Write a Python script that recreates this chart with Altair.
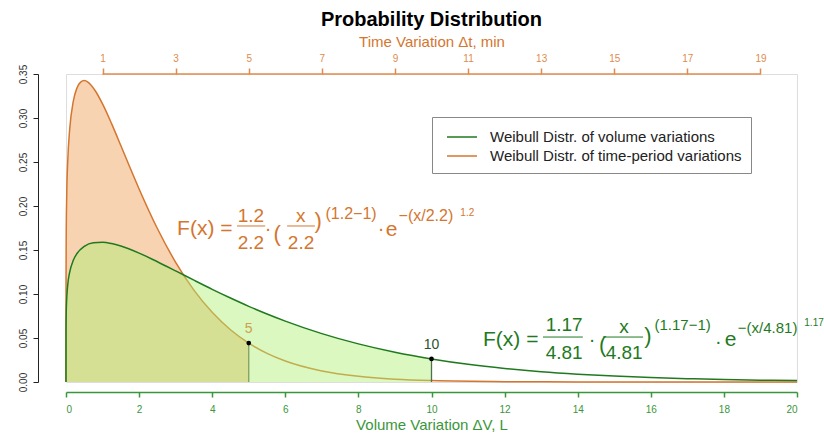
import altair as alt
import pandas as pd

# ---- data ----
x_orange = [0, 0.001, 0.005, 0.02, 0.05, 0.1, 0.2, 0.3, 0.4, 0.5, 0.6, 0.8, 1.0, 1.25, 1.5,
            1.75, 2.0, 2.5, 3.0, 3.5, 4.0, 4.5, 5.0, 5.5, 6, 7, 8, 9, 10, 12, 14, 16, 18, 20]
y_orange = [0, 0.1171, 0.1614, 0.2123, 0.2532, 0.2868, 0.3192, 0.3342, 0.3408, 0.3425,
            0.3408, 0.3310, 0.3160, 0.2933, 0.2687, 0.2437, 0.2194, 0.1744, 0.1360, 0.1044,
            0.0792, 0.0594, 0.0442, 0.0325, 0.0238, 0.0125, 0.0064, 0.0032, 0.0016, 0.0004,
            0.0001, 0.0, 0.0, 0.0]
x_green = [0, 0.001, 0.01, 0.05, 0.1, 0.2, 0.3, 0.5, 0.75, 1.0, 1.25, 1.5, 2.0, 2.5, 3.0,
           3.5, 4.0, 4.5, 5.0, 5.5, 6, 7, 8, 9, 10, 11, 12, 13, 14, 15, 16, 17, 18, 19, 20]
y_green = [0, 0.0576, 0.0851, 0.1114, 0.1246, 0.1383, 0.1460, 0.1542, 0.1583, 0.1588,
           0.1573, 0.1545, 0.1465, 0.1367, 0.1263, 0.1157, 0.1053, 0.0954, 0.0860, 0.0773,
           0.0692, 0.0550, 0.0433, 0.0338, 0.0262, 0.0201, 0.0154, 0.0117, 0.0089, 0.0067,
           0.0050, 0.0038, 0.0028, 0.0021, 0.0016]
series_names = ["Weibull Distr. of volume variations", "Weibull Distr. of time-period variations"]
orange_limit = 5
green_limit = 10
marker_x = [5, 10]
marker_y = [0.0442, 0.0262]
marker_text = ["5", "10"]
bottom_ticks = list(range(0, 21, 2))
top_ticks = list(range(1, 20, 2))
y_ticks = [0, 0.05, 0.10, 0.15, 0.20, 0.25, 0.30, 0.35]

# ---- styling ----
FONT = "Liberation Sans"
ORANGE = "#D4762F"
ORANGE_LIGHT = "#E08B4E"
GREEN = "#1F7A1F"
GREEN_AX = "#3A963A"
PEACH = "#F8D3B1"
LGREEN = "#ADEF73"

df_o = pd.DataFrame({"x": x_orange, "y": y_orange, "s": series_names[1]})
df_g = pd.DataFrame({"x": x_green, "y": y_green, "s": series_names[0]})

xs = alt.Scale(domain=[0, 20], nice=False, zero=False)
ys = alt.Scale(domain=[0, 0.35], nice=False)
cs = alt.Scale(domain=series_names, range=[GREEN, ORANGE])

X_NONE = alt.X("x:Q", scale=xs, axis=None)
Y_NONE = alt.Y("y:Q", scale=ys, axis=None)

area_o = alt.Chart(df_o).transform_filter(alt.datum.x <= orange_limit).mark_area(
    color=PEACH, interpolate="monotone").encode(
    x=alt.X("x:Q", scale=xs, axis=alt.Axis(
        values=bottom_ticks, offset=10, grid=False, domainColor=GREEN_AX, tickColor=GREEN_AX,
        labelColor=GREEN_AX, tickSize=5, labelFontSize=10, labelPadding=7,
        domainWidth=1.5, tickWidth=1.5,
        title="Volume Variation ΔV, L", titleColor=GREEN_AX, titleFontSize=15,
        titleFontWeight="normal", titlePadding=3)),
    y=alt.Y("y:Q", scale=ys, axis=alt.Axis(
        values=y_ticks, format=".2f", offset=28, grid=False, domainColor="#222",
        tickColor="#222", labelColor="#333", tickSize=5, labelFontSize=10, labelAngle=270,
        labelAlign="center", labelBaseline="bottom", labelPadding=5, title=None)),
)

line_o = alt.Chart(df_o).mark_line(strokeWidth=1.5, interpolate="monotone").encode(
    x=X_NONE, y=Y_NONE,
    color=alt.Color("s:N", scale=cs, legend=alt.Legend(
        title=None, orient="none", legendX=366, legendY=43, fillColor="white",
        strokeColor="#888", padding=9, symbolType="M-1.5,0L1.5,0", symbolSize=400,
        symbolStrokeWidth=1.5, symbolOffset=10, labelOffset=17, labelFontSize=15,
        labelFont=FONT, labelColor="#222", rowPadding=0, labelLimit=400)),
)

area_g = alt.Chart(df_g).transform_filter(alt.datum.x <= green_limit).mark_area(
    color=LGREEN, opacity=0.45, interpolate="monotone").encode(x=X_NONE, y=Y_NONE)

line_g = alt.Chart(df_g).mark_line(strokeWidth=1.5, interpolate="monotone").encode(
    x=X_NONE, y=Y_NONE, color=alt.Color("s:N", scale=cs))

df_m = pd.DataFrame({"x": marker_x, "y": marker_y, "t": marker_text,
                     "c": ["#7F9F5F", "#4F6F4F"], "tc": ["#CFA04A", "#2F4F2F"]})
vrules = alt.Chart(df_m).mark_rule(strokeWidth=1.3).encode(
    x=X_NONE, y=alt.Y("y:Q", scale=ys, axis=None), y2=alt.datum(0),
    color=alt.Color("c:N", scale=None))
pts = alt.Chart(df_m).mark_circle(size=22, color="black", opacity=1).encode(x=X_NONE, y=Y_NONE)
mlab = alt.Chart(df_m).mark_text(fontSize=14, font=FONT, dy=-14).encode(
    x=X_NONE, y=Y_NONE, text="t:N", color=alt.Color("tc:N", scale=None))

# top axis (time), axis line spans 1..19
df_top = pd.DataFrame({"x": [top_ticks[0]], "x2": [top_ticks[-1]], "y": [0.35]})
top_axis = alt.Chart(df_top).mark_rule(color=ORANGE_LIGHT, strokeWidth=1.5).encode(
    x=alt.X("x:Q", scale=xs, axis=alt.Axis(
        orient="top", values=top_ticks, domain=False, grid=False, tickColor=ORANGE_LIGHT,
        tickWidth=1.5, tickSize=6, labelColor=ORANGE_LIGHT, labelFontSize=10, labelPadding=5,
        title="Time Variation Δt, min", titleColor=ORANGE, titleFontSize=15,
        titleFontWeight="normal", titlePadding=4)),
    x2="x2:Q", y=Y_NONE)

# equations (annotation positions in data units)
eq_o = pd.DataFrame([
    ("F(x) =", 3.04, 0.174, 21, "left"),
    ("1.2", 5.06, 0.1886, 19, "center"),
    ("2.2", 5.06, 0.158, 19, "center"),
    ("·", 5.53, 0.174, 20, "center"),
    ("(", 5.78, 0.168, 22, "center"),
    ("x", 6.42, 0.1886, 19, "center"),
    ("2.2", 6.43, 0.158, 19, "center"),
    (")", 6.9, 0.183, 22, "center"),
    ("(1.2−1)", 7.1, 0.1905, 16, "left"),
    ("·", 8.62, 0.174, 20, "center"),
    ("e", 8.75, 0.1725, 21, "left"),
    ("−(x/2.2)", 9.1, 0.189, 16, "left"),
    ("1.2", 10.79, 0.1915, 10, "left"),
], columns=["t", "x", "y", "fs", "al"])
eq_g = pd.DataFrame([
    ("F(x) =", 11.41, 0.0477, 21, "left"),
    ("1.17", 13.63, 0.0648, 19, "center"),
    ("4.81", 13.63, 0.033, 19, "center"),
    ("·", 14.39, 0.0477, 20, "center"),
    ("(", 14.68, 0.042, 22, "center"),
    ("x", 15.27, 0.0625, 19, "center"),
    ("4.81", 15.27, 0.033, 19, "center"),
    (")", 15.92, 0.052, 22, "center"),
    ("(1.17−1)", 16.1, 0.0648, 15, "left"),
    ("·", 17.85, 0.0455, 20, "center"),
    ("e", 18.02, 0.0477, 21, "left"),
    ("−(x/4.81)", 18.38, 0.0614, 15, "left"),
    ("1.17", 20.2, 0.067, 10, "left"),
], columns=["t", "x", "y", "fs", "al"])

def eq_layers(df, color):
    layers = []
    for al in ["left", "center"]:
        sub = df[df.al == al]
        layers.append(alt.Chart(sub).mark_text(font=FONT, align=al, baseline="middle",
                                               color=color).encode(
            x=X_NONE, y=Y_NONE, text="t:N", size=alt.Size("fs:Q", scale=None, legend=None)))
    return layers

frac_o = pd.DataFrame({"x": [4.68, 6.05], "x2": [5.45, 6.81], "y": [0.1773, 0.1773]})
frac_g = pd.DataFrame({"x": [13.05, 14.69], "x2": [14.14, 15.79], "y": [0.0511, 0.0511]})
fr_o = alt.Chart(frac_o).mark_rule(color=ORANGE, strokeWidth=1).encode(x=X_NONE, x2="x2:Q", y=Y_NONE)
fr_g = alt.Chart(frac_g).mark_rule(color=GREEN, strokeWidth=1).encode(x=X_NONE, x2="x2:Q", y=Y_NONE)

chart = alt.layer(
    area_o, line_o, area_g, line_g, vrules, pts, mlab, top_axis, fr_o, fr_g,
    *eq_layers(eq_o, ORANGE), *eq_layers(eq_g, GREEN),
).resolve_axis(x="independent", y="independent").properties(
    width=731, height=308,
    title=alt.TitleParams("Probability Distribution", fontSize=20, fontWeight="bold",
                          font=FONT, color="black", offset=4, anchor="middle"),
    autosize=alt.AutoSizeParams(type="none"),
    padding={"left": 66, "top": 74, "right": 27, "bottom": 57},
    background="white",
).configure_view(stroke=None).configure(font=FONT)

chart.save("out.html", embed_options={"renderer": "svg", "actions": False})
